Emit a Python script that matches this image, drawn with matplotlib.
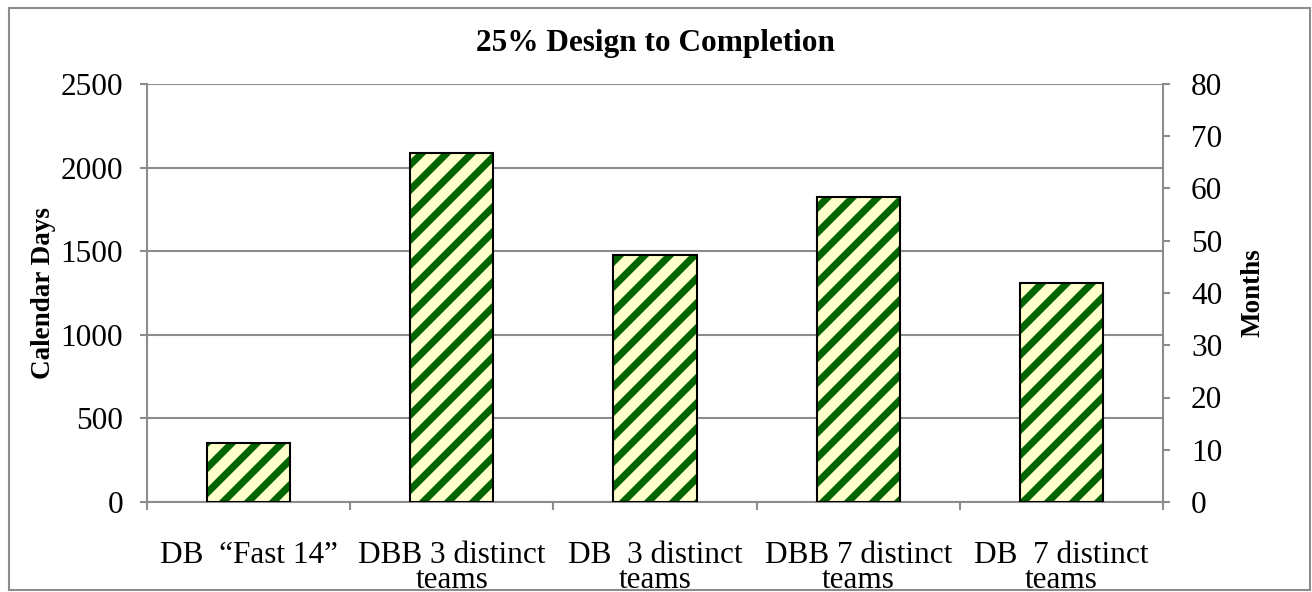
import matplotlib
matplotlib.use("Agg")
import matplotlib.pyplot as plt
from matplotlib.patches import Rectangle
import numpy as np

# Data
categories = ["DB  \u201cFast 14\u201d", "DBB 3 distinct\nteams", "DB  3 distinct\nteams",
              "DBB 7 distinct\nteams", "DB  7 distinct\nteams"]
calendar_days = [355, 2090, 1475, 1825, 1310]
left_ticks = [0, 500, 1000, 1500, 2000, 2500]
right_ticks = [0, 10, 20, 30, 40, 50, 60, 70, 80]

DPI = 150
FS = 15
LABEL_FS = 13
plt.rcParams['font.family'] = ['Liberation Serif', 'DejaVu Serif']
plt.rcParams['hatch.linewidth'] = 3.4

GRAY = '#8c8c8c'
FILL = '#FFFFCC'
STRIPE = '#006400'

fig = plt.figure(figsize=(1312 / DPI, 592 / DPI), dpi=DPI)
fig.patch.set_facecolor('white')

# outer chart border
fig.patches.append(Rectangle((9 / 1312, 1 - 590 / 592), 1301 / 1312, 582 / 592,
                             transform=fig.transFigure, fill=False,
                             edgecolor=GRAY, linewidth=1.0))

ax = fig.add_axes([147 / 1312, 1 - 502 / 592, 1016 / 1312, 418 / 592])

x = np.arange(len(categories))
# striped fill (hatch takes the edge colour), then the black outline on top
ax.bar(x, calendar_days, width=0.41, facecolor=FILL, edgecolor=STRIPE,
       linewidth=0, hatch='//', zorder=3)
ax.bar(x, calendar_days, width=0.41, fill=False, edgecolor='black',
       linewidth=1.0, zorder=4)

ax.set_xlim(-0.5, len(categories) - 0.5)
ax.set_ylim(0, 2500)
ax.set_yticks(left_ticks)
ax.yaxis.grid(True, color=GRAY, linewidth=1.0, zorder=0)
ax.set_axisbelow(True)

ax.set_xticks(x)
ax.set_xticklabels(categories, fontsize=FS, linespacing=0.82)
ax.set_xticks(np.arange(-0.5, len(categories)), minor=True)
ax.tick_params(axis='x', which='major', length=0, pad=18.5)
ax.tick_params(axis='x', which='minor', length=4, width=1.0, color=GRAY)
ax.tick_params(axis='y', length=3.5, width=1.0, color=GRAY, labelsize=FS, pad=8)

for side in ['top', 'right']:
    ax.spines[side].set_visible(False)
for side in ['left', 'bottom']:
    ax.spines[side].set_color(GRAY)
    ax.spines[side].set_linewidth(1.0)

ax.set_ylabel("Calendar Days", fontsize=LABEL_FS, fontweight='bold')
ax.yaxis.set_label_coords(-0.0896, 0.5)

ax2 = ax.twinx()
ax2.set_ylim(0, 80)
ax2.set_yticks(right_ticks)
ax2.tick_params(axis='y', length=3.5, width=1.0, color=GRAY, labelsize=FS, pad=10)
for side in ['top', 'left', 'bottom']:
    ax2.spines[side].set_visible(False)
ax2.spines['right'].set_color(GRAY)
ax2.spines['right'].set_linewidth(1.0)
ax2.set_ylabel("Months", fontsize=LABEL_FS, fontweight='bold')
ax2.yaxis.set_label_coords(1.0758, 0.5)

fig.text(0.5, 1 - 43 / 592, "25% Design to Completion", ha='center', va='center',
         fontsize=FS, fontweight='bold')

fig.savefig("out.png", dpi=DPI)
